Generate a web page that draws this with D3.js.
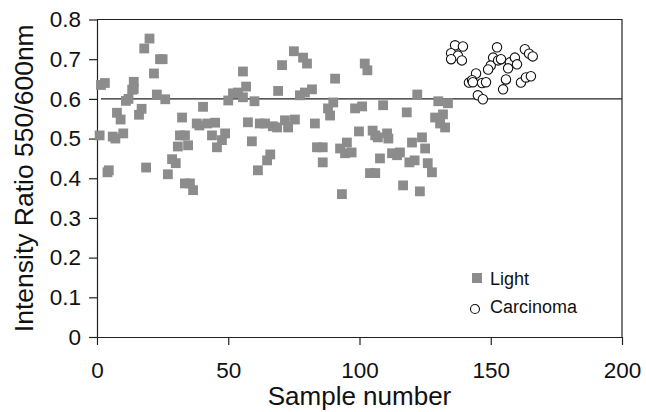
<!DOCTYPE html>
<html>
<head>
<meta charset="utf-8">
<script src="https://cdn.jsdelivr.net/npm/d3@7"></script>
<style>
  body { margin: 0; background: #fff; }
  text { font-family: "Liberation Sans", Arial, sans-serif; fill: #111; }
</style>
</head>
<body>
<div id="chart"></div>
<script>
// Light samples: [sample number, ratio]
const lightData = [
  [1, 0.508], [1.5, 0.635], [3, 0.64], [4, 0.415], [4.5, 0.42], [6, 0.505], [7, 0.50],
  [10, 0.513], [7.6, 0.565], [9, 0.548], [11, 0.595], [12, 0.60], [13.4, 0.623], [14, 0.625],
  [14, 0.643], [16, 0.56], [17, 0.575], [18, 0.727], [20, 0.752], [18.7, 0.427], [21.7, 0.664],
  [24, 0.70], [25, 0.70], [22.8, 0.611], [26, 0.599], [27, 0.41], [28.6, 0.448], [30, 0.438],
  [32.4, 0.553], [31.6, 0.508], [30.8, 0.48], [33.5, 0.387], [34.7, 0.483], [33.5, 0.508],
  [35.4, 0.387], [36.6, 0.37], [38, 0.538], [39, 0.533], [40.4, 0.58], [42, 0.538], [45, 0.54],
  [43.8, 0.508], [45.7, 0.478], [47.6, 0.496], [48.8, 0.513], [50, 0.596], [51.8, 0.614],
  [53.7, 0.616], [55.6, 0.604], [56.8, 0.631], [55.6, 0.669], [57.5, 0.541], [59, 0.493],
  [60, 0.594], [61.3, 0.42], [64.8, 0.445], [66, 0.46], [62, 0.538], [64, 0.538], [67, 0.531],
  [68.6, 0.528], [70.5, 0.685], [69, 0.62], [71.6, 0.546], [72.8, 0.528], [75.4, 0.548],
  [75, 0.72], [78.5, 0.704], [80, 0.689], [77.3, 0.609], [79.2, 0.616], [81.9, 0.624],
  [83, 0.538], [83.8, 0.478], [86, 0.478], [86, 0.44], [88, 0.576], [88.8, 0.558], [90, 0.591],
  [90.7, 0.651], [93.3, 0.36], [92.6, 0.475], [95.2, 0.49], [97, 0.465], [94.5, 0.463],
  [98.3, 0.576], [101, 0.581], [99.8, 0.518], [102, 0.689], [103, 0.672], [104, 0.413],
  [105, 0.52], [106, 0.508], [107, 0.503], [110.5, 0.513], [111, 0.50], [106, 0.413],
  [109, 0.584], [107.8, 0.45], [112.4, 0.463], [114.3, 0.458], [115.4, 0.465], [116.6, 0.382],
  [118, 0.566], [119, 0.44], [121, 0.445], [120, 0.49], [123.8, 0.503], [125, 0.475],
  [122, 0.611], [123, 0.367], [126, 0.438], [127.6, 0.415], [128.8, 0.553], [130.7, 0.538],
  [132.6, 0.528], [130, 0.594], [133.7, 0.589], [131.8, 0.561]
];

// Carcinoma samples: [sample number, ratio]
const carcinomaData = [
  [136.4, 0.735], [139.4, 0.732], [134.9, 0.715], [137.5, 0.709], [139, 0.697], [134.9, 0.70],
  [141.7, 0.641], [144.4, 0.664], [142.9, 0.647], [143.2, 0.642], [146.7, 0.64], [148.2, 0.642],
  [145.1, 0.609], [147, 0.599], [152.4, 0.73], [150.9, 0.704], [150, 0.684], [149, 0.674],
  [152.8, 0.697], [153.9, 0.70], [157.3, 0.692], [159.2, 0.704], [160, 0.687], [156.6, 0.677],
  [155.8, 0.649], [154.7, 0.624], [163, 0.725], [164.6, 0.714], [166, 0.707], [161.5, 0.641],
  [163.4, 0.654], [165.3, 0.657]
];

const xTicks = [0, 50, 100, 150, 200];
const yTicks = [0, 0.1, 0.2, 0.3, 0.4, 0.5, 0.6, 0.7, 0.8];
const threshold = 0.6;
const legendLabels = ["Light", "Carcinoma"];

const width = 646, height = 412;
const margin = {top: 19.5, right: 24, bottom: 75, left: 97};

let svg = d3.select("#chart").append("svg")
    .attr("width", width)
    .attr("height", height);

let x = d3.scaleLinear().domain([0, 200]).range([margin.left, width - margin.right]);
let y = d3.scaleLinear().domain([0, 0.8]).range([height - margin.bottom, margin.top]);

// plot frame (top + right)
svg.append("path")
    .attr("d", `M${x(0)},${y(0.8)}H${x(200)}V${y(0)}`)
    .attr("fill", "none")
    .attr("stroke", "#222")
    .attr("stroke-width", 1.2);

let xAxis = svg.append("g")
    .attr("transform", `translate(0,${y(0)})`)
    .call(d3.axisBottom(x).tickValues(xTicks).tickSize(8).tickPadding(17).tickSizeOuter(0));

let yAxis = svg.append("g")
    .attr("transform", `translate(${x(0)},0)`)
    .call(d3.axisLeft(y).tickValues(yTicks).tickSize(8).tickPadding(8).tickSizeOuter(0)
        .tickFormat(d => d === 0 ? "0" : d3.format(".1f")(d)));

[xAxis, yAxis].forEach(a => {
    a.select(".domain").attr("stroke", "#222").attr("stroke-width", 1.2);
    a.selectAll(".tick line").attr("stroke", "#222").attr("stroke-width", 1.2);
    a.selectAll(".tick text")
        .attr("font-size", 22.5)
        .attr("font-family", "Liberation Sans, Arial, sans-serif")
        .attr("fill", "#111");
});

// 0.6 reference line
svg.append("line")
    .attr("x1", x(1.5)).attr("x2", x(200))
    .attr("y1", y(threshold)).attr("y2", y(threshold))
    .attr("stroke", "#222")
    .attr("stroke-width", 1.2);

const sq = 9.8;
svg.append("g").selectAll("rect")
    .data(lightData)
    .join("rect")
    .attr("x", d => x(d[0]) - sq / 2)
    .attr("y", d => y(d[1]) - sq / 2)
    .attr("width", sq)
    .attr("height", sq)
    .attr("fill", "#8c8c8c");

svg.append("g").selectAll("circle")
    .data(carcinomaData)
    .join("circle")
    .attr("cx", d => x(d[0]))
    .attr("cy", d => y(d[1]))
    .attr("r", 4.7)
    .attr("fill", "#fff")
    .attr("stroke", "#111")
    .attr("stroke-width", 1.1);

// axis titles
svg.append("text")
    .attr("x", x(100))
    .attr("y", 405)
    .attr("text-anchor", "middle")
    .attr("font-size", 26)
    .text("Sample number");

svg.append("text")
    .attr("transform", `translate(33,${(y(0) + y(0.8)) / 2}) rotate(-90)`)
    .attr("text-anchor", "middle")
    .attr("font-size", 26.5)
    .text("Intensity Ratio 550/600nm");

// legend
let legend = svg.append("g").attr("transform", "translate(477,0)");
legend.append("rect")
    .attr("x", -5).attr("y", 273)
    .attr("width", 10).attr("height", 10)
    .attr("fill", "#8c8c8c");
legend.append("circle")
    .attr("cx", -2).attr("cy", 309)
    .attr("r", 4.5)
    .attr("fill", "#fff")
    .attr("stroke", "#111")
    .attr("stroke-width", 1.1);
legend.selectAll("text.lbl")
    .data(legendLabels)
    .join("text")
    .attr("class", "lbl")
    .attr("x", 13)
    .attr("y", (d, i) => 285 + i * 28)
    .attr("font-size", 18)
    .text(d => d);
</script>
</body>
</html>
